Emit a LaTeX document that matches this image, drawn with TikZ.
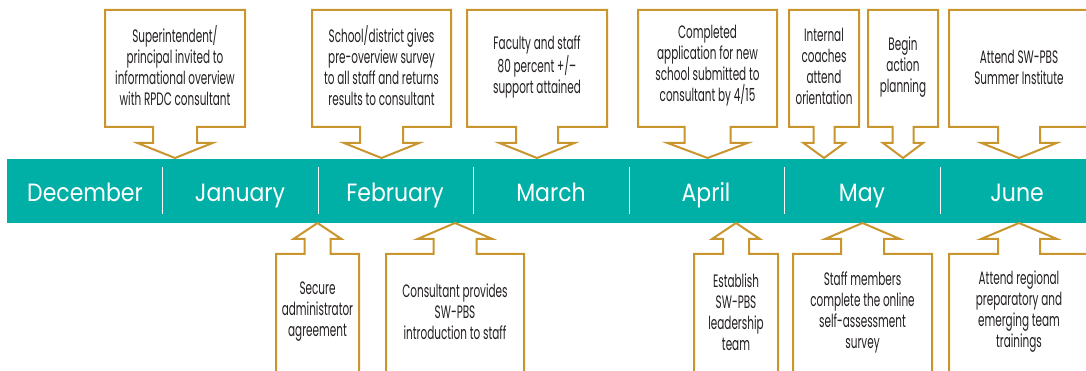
\documentclass[tikz,border=0pt]{standalone}
\usepackage{fontspec}
\newfontfamily\callfont[FakeStretch=0.58]{Poppins}
\newfontfamily\monthfont[FakeStretch=0.88]{Poppins}
\definecolor{bandteal}{RGB}{0,176,167}
\definecolor{calloutgold}{RGB}{200,149,46}
\definecolor{calltextcol}{RGB}{35,31,32}

\tikzset{
  callout/.style={draw=calloutgold, line width=2pt, fill=white, line join=miter},
  calltext/.style={align=center, text=calltextcol,
    font=\callfont\fontsize{18}{21}\selectfont, inner sep=0pt},
  month/.style={text=white, font=\monthfont\fontsize{25}{30}\selectfont,
    inner sep=0pt, anchor=base},
  divider/.style={draw=white, line width=1pt},
}

% callout above the band, arrow pointing down:
% #1 centre x, #2 box half width, #3 stem half width, #4 head half width
\newcommand\downcallout[4]{%
  \draw[callout] ({#1-#2},10) -- ({#1+#2},10) -- ({#1+#2},127)
    -- ({#1+#3},127) -- ({#1+#3},143) -- ({#1+#4},143) -- (#1,158)
    -- ({#1-#4},143) -- ({#1-#3},143) -- ({#1-#3},127) -- ({#1-#2},127) -- cycle;}
% callout below the band, arrow pointing up, box running off the bottom
\newcommand\upcallout[4]{%
  \draw[callout] ({#1-#2},380) -- ({#1-#2},254) -- ({#1-#3},254)
    -- ({#1-#3},239) -- ({#1-#4},239) -- (#1,223) -- ({#1+#4},239)
    -- ({#1+#3},239) -- ({#1+#3},254) -- ({#1+#2},254) -- ({#1+#2},380);}

\begin{document}
\begin{tikzpicture}[x=1pt,y=-1pt]
\useasboundingbox (0,0) rectangle (1086,371);
\clip (0,0) rectangle (1086,371);

% month band
\fill[bandteal] (7,159) rectangle (1092,223);
\foreach \dx in {162,318,473,629,784,940}
  \draw[divider] (\dx,167) -- (\dx,214);

\node[month] (dec) at (85,202) {December};
\node[month] (jan) at (240,202) {January};
\node[month] (feb) at (395,202) {February};
\node[month] (mar) at (551,202) {March};
\node[month] (apr) at (706,202) {April};
\node[month] (may) at (862,202) {May};
\node[month] (jun) at (1017,202) {June};

% events above the band
\downcallout{175}{70}{22}{37.5}
\node[calltext] (t1) at (175,66) {Superintendent/\\principal invited to\\informational overview\\with RPDC consultant};
\downcallout{381.5}{69.5}{21.5}{37.5}
\node[calltext] (t2) at (381.5,66) {School/district gives\\pre-overview survey\\to all staff and returns\\results to consultant};
\downcallout{537}{70}{21}{37.5}
\node[calltext] (t3) at (537,67) {Faculty and staff\\80 percent +/–\\support attained};
\downcallout{707.5}{69.5}{23}{40}
\node[calltext] (t4) at (707.5,66) {Completed\\application for new\\school submitted to\\consultant by 4/15};
\downcallout{824}{35}{10.5}{20.5}
\node[calltext] (t5) at (824,66) {Internal\\coaches\\attend\\orientation};
\downcallout{903}{35}{10.5}{20}
\node[calltext] (t6) at (903,67) {Begin\\action\\planning};
\downcallout{1019}{70}{21}{37.5}
\node[calltext] (t7) at (1019,67) {Attend SW-PBS\\Summer Institute};

% events below the band
\upcallout{317.5}{41.5}{13}{24}
\node[calltext] (b1) at (317.5,312) {Secure\\administrator\\agreement};
\upcallout{455}{69}{21.5}{37.5}
\node[calltext] (b2) at (455,312) {Consultant provides\\SW-PBS\\introduction to staff};
\upcallout{736}{42}{13}{24}
\node[calltext] (b3) at (736,312) {Establish\\SW-PBS\\leadership\\team};
\upcallout{862.5}{69.5}{21.5}{37.5}
\node[calltext] (b4) at (862.5,312) {Staff members\\complete the online\\self-assessment\\survey};
\upcallout{1019}{70}{21}{38}
\node[calltext] (b5) at (1019,312) {Attend regional\\preparatory and\\emerging team\\trainings};
\end{tikzpicture}
\end{document}
